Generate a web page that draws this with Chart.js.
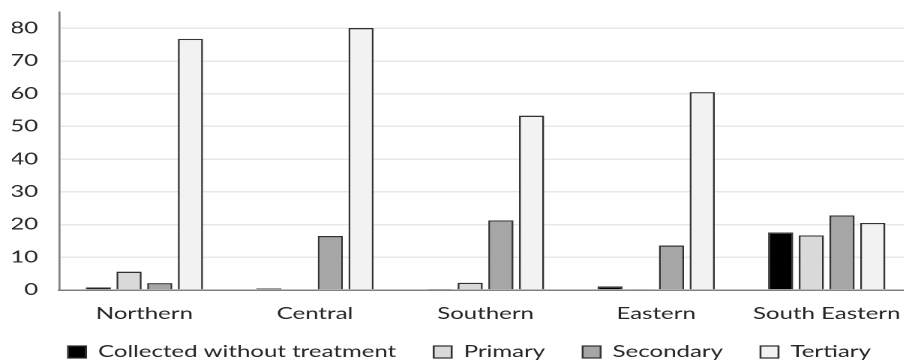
<!DOCTYPE html>
<html>
<head>
<meta charset="utf-8">
<script src="https://cdn.jsdelivr.net/npm/chart.js@4.4.1/dist/chart.umd.min.js"></script>
<style>
  html, body { margin: 0; padding: 0; background: #fff; overflow: hidden; }
  /* the reference is stretched sideways, so draw narrow and scale x */
  #wrap { width: 608px; height: 375px; transform: scaleX(1.5); transform-origin: 0 0; }
</style>
</head>
<body>
<div id="wrap"><canvas id="chart"></canvas></div>
<script>
// Regions
const regions = ["Northern", "Central", "Southern", "Eastern", "South Eastern"];

// Series values
const collected = [0.8, 0.5, 0.3, 1.1, 17.6];
const primary   = [5.6, 0,   2.2, 0.2, 16.7];
const secondary = [2.1, 16.5, 21.3, 13.6, 22.8];
const tertiary  = [76.8, 80.1, 53.3, 60.5, 20.5];

const yTicks = [0, 10, 20, 30, 40, 50, 60, 70, 80];

const textColor = "#262626";
const edge = "#333333";
const fontFamily = "Lato";

function makeSet(label, data, fill) {
  return {
    label: label,
    data: data,
    backgroundColor: fill,
    borderColor: edge,
    borderWidth: 1.3,
    categoryPercentage: 0.72,
    barPercentage: 0.82
  };
}

// nudge the legend row a little, like the original
const legendShift = {
  id: "legendShift",
  afterLayout(chart) {
    const lg = chart.legend;
    lg.left += 5;
    lg.right += 5;
    lg.top -= 5;
    lg.bottom -= 5;
  }
};

const ctx = document.getElementById("chart").getContext("2d");

new Chart(ctx, {
  type: "bar",
  data: {
    labels: regions,
    datasets: [
      makeSet("Collected without treatment", collected, "#000000"),
      makeSet("Primary", primary, "#d9d9d9"),
      makeSet("Secondary", secondary, "#a6a6a6"),
      makeSet("Tertiary", tertiary, "#f2f2f2")
    ]
  },
  plugins: [legendShift],
  options: {
    responsive: true,
    maintainAspectRatio: false,
    animation: false,
    devicePixelRatio: 2,
    layout: { padding: { left: 8, top: 12, right: 0, bottom: 0 } },
    plugins: {
      tooltip: { enabled: false },
      legend: {
        position: "bottom",
        labels: {
          font: { family: fontFamily, size: 16 },
          color: textColor,
          boxWidth: 12,
          boxHeight: 12,
          padding: 25
        }
      }
    },
    scales: {
      x: {
        grid: { display: false, drawTicks: false },
        border: { display: true, color: "#808080", width: 1.5 },
        ticks: {
          font: { family: fontFamily, size: 16, lineHeight: 0.6 },
          color: textColor,
          padding: 19
        },
        afterFit: (scale) => {
          scale.height = 34;
          scale.paddingLeft = 0;
          scale.paddingRight = 0;
        }
      },
      y: {
        min: 0,
        max: 85,
        afterBuildTicks: (axis) => {
          axis.ticks = yTicks.map(v => ({ value: v }));
        },
        grid: { color: "#e8e8e8", lineWidth: 1.5, drawTicks: false },
        border: { display: true, color: "#7f7f7f", width: 1.3 },
        ticks: {
          font: { family: fontFamily, size: 16 },
          color: textColor,
          padding: 14
        },
        afterFit: (scale) => {
          scale.width = 31.4;
          scale.paddingTop = 0;
          scale.paddingBottom = 0;
        }
      }
    }
  }
});
</script>
</body>
</html>
